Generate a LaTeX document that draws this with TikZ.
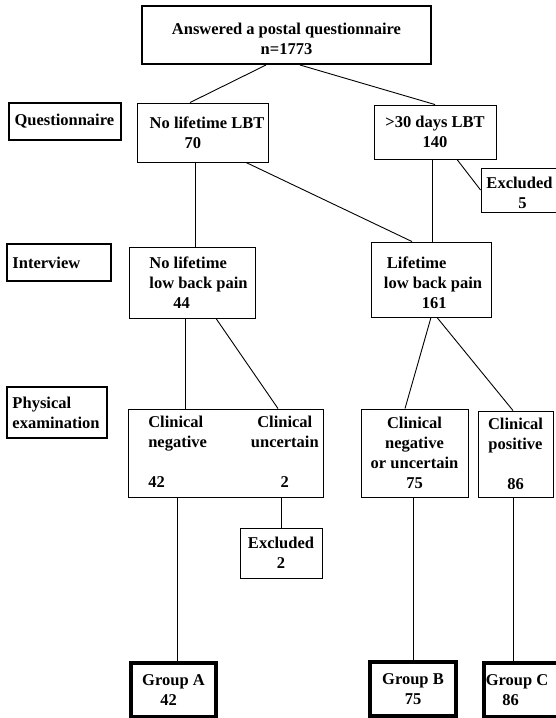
\documentclass[tikz,border=0pt]{standalone}
\usepackage{fontspec}
\setmainfont{Liberation Serif}
\usepackage{tikz}

\begin{document}
\begin{tikzpicture}[
        x=1pt, y=-1pt,
        font=\fontsize{16.5}{20}\selectfont\bfseries,
        box/.style={rectangle, draw=black, line width=0.9pt, inner sep=0pt, align=center},
        stage/.style={box, line width=2pt, inner xsep=5.5pt, align=left},
        group/.style={box, line width=4pt},
        link/.style={line width=0.9pt}
    ]
        \useasboundingbox (0,0) rectangle (555,718);

        % ===== survey =====
        \node (postal) [box, line width=2pt, minimum width=289pt, minimum height=58pt] at (286.5,35) {\rule{0pt}{20pt}Answered a postal questionnaire\\n=1773};
        \node (nolbt) [box, align=left, minimum width=131pt, minimum height=59pt] at (202.5,132.5) {\hspace*{9pt}No lifetime LBT\\\hspace*{44pt}70};
        \node (longlbt) [box, minimum width=122pt, minimum height=54pt] at (435,132) {>30 days LBT\\140};
        \node (exclA) [box, minimum width=86pt, minimum height=44pt] at (524,190) {\rule{0pt}{17pt}Excluded\hspace*{9pt}\\5\hspace*{3pt}};

        % ===== interview =====
        \node (nolbp) [box, align=left, minimum width=126pt, minimum height=71pt] at (192,282.5) {\hspace*{13pt}No lifetime\\\hspace*{13pt}low back pain\\\hspace*{37pt}44};
        \node (lbp) [box, align=left, minimum width=120pt, minimum height=75pt] at (431,279.5) {\rule{0pt}{19pt}\hspace*{7pt}Lifetime\\\hspace*{4pt}low back pain\\\hspace*{42pt}161};

        % ===== examination =====
        \node (clinA) [box, minimum width=195pt, minimum height=88pt] at (225.5,453) {\begin{tabular}{@{\hspace{16pt}}l@{\hspace{44pt}}c@{}}Clinical & Clinical\\negative & uncertain\\ & \\42 & 2\end{tabular}};
        \node (clinB) [box, minimum width=107pt, minimum height=88pt] at (414.5,453) {Clinical\\negative\\or uncertain\\75};
        \node (clinC) [box, minimum width=75pt, minimum height=86pt] at (515.5,454) {Clinical\\positive\\ \\86};
        \node (exclB) [box, minimum width=82pt, minimum height=50pt] at (281,553) {Excluded\\2};

        % ===== groups =====
        \node (groupA) [group, minimum width=85pt, minimum height=54pt] at (173.5,690) {Group A\\42\hspace*{10pt}};
        \node (groupB) [group, minimum width=86pt, minimum height=54pt] at (413,689) {Group B\\75};
        \node (groupC) [group, minimum width=96pt, minimum height=54pt] at (532,690) {Group C\hspace*{30pt}\\86\hspace*{43pt}};

        % ===== stages =====
        \node (quest) [stage, text width=101pt, minimum height=37pt] at (65,121.5) {Questionnaire};
        \node (interview) [stage, text width=93pt, minimum height=37pt] at (59,262.5) {Interview};
        \node (physical) [stage, text width=89pt, minimum height=51pt] at (57,412.5) {Physical\\examination};

        % ===== links =====
        \draw [link] ([xshift=-20.5pt]postal.south) -- ([xshift=-12.5pt]nolbt.north);
        \draw [link] ([xshift=13.5pt]postal.south) -- (longlbt.north);
        \draw [link] ([xshift=22pt]longlbt.south) -- (exclA.west);

        \draw [link] ([xshift=-7.5pt]nolbt.south) -- ([xshift=-7.5pt]nolbt.south |- nolbp.north);
        \draw [link] ([xshift=43.5pt]nolbt.south) -- ([xshift=-19pt]lbp.north);
        \draw [link] ([xshift=-3pt]longlbt.south) -- ([xshift=-3pt]longlbt.south |- lbp.north);

        \draw [link] ([xshift=-7pt]nolbp.south) -- ([xshift=-7pt]nolbp.south |- clinA.north);
        \draw [link] ([xshift=24pt]nolbp.south) -- ([xshift=52.5pt]clinA.north);
        \draw [link] (lbp.south) -- ([xshift=-9.5pt]clinB.north);
        \draw [link] ([xshift=6pt]lbp.south) -- ([xshift=-2.5pt]clinC.north);

        \draw [link] (exclB.north |- clinA.south) -- (exclB.north);
        \draw [link] ([xshift=3.5pt]groupA.north |- clinA.south) -- ([xshift=3.5pt]groupA.north);
        \draw [link] (groupB.north |- clinB.south) -- (groupB.north);
        \draw [link] ([xshift=-2.5pt]clinC.south) -- ([xshift=-2.5pt]clinC.south |- groupC.north);

    \end{tikzpicture}
\end{document}
